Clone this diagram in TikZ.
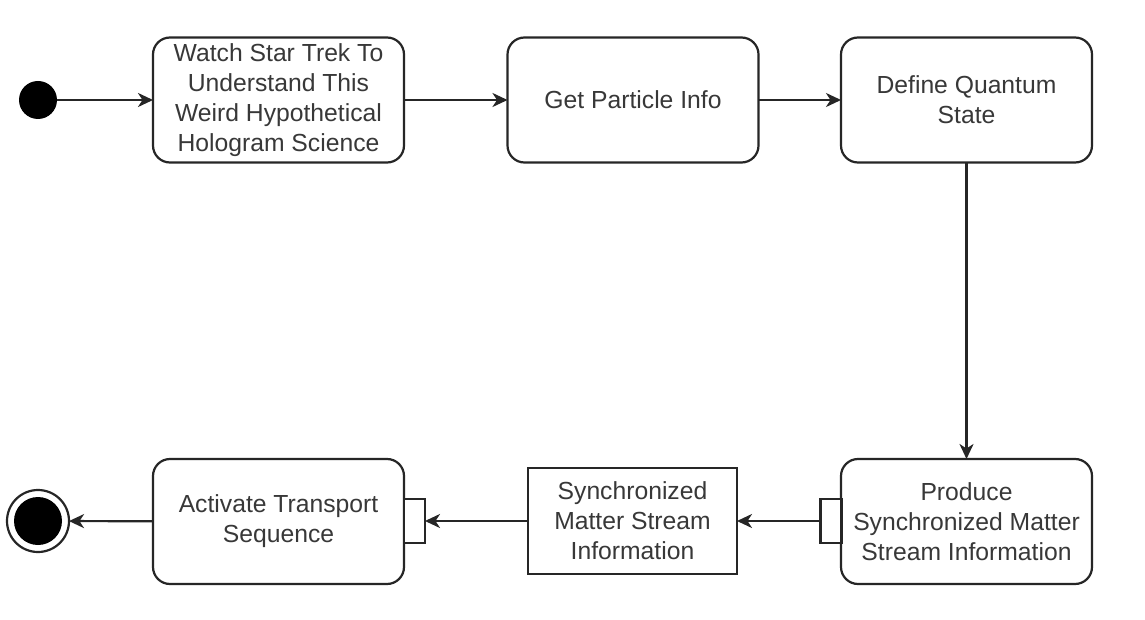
\documentclass[tikz,border=0pt]{standalone}
\usepackage{fontspec}
\setmainfont{Liberation Sans}
\usetikzlibrary{arrows.meta}
\definecolor{lineC}{HTML}{262626}
\definecolor{textC}{HTML}{383838}
\tikzset{
  x=1pt, y=-1pt,
  every node/.style={inner sep=0pt, outer sep=0pt},
  lbl/.style={text=textC, font=\fontsize{24.7}{30}\selectfont, align=center},
  action/.style={lbl, draw=lineC, line width=2.2pt, rounded corners=17pt, fill=white,
    minimum width=251pt, minimum height=125pt},
  objbox/.style={lbl, draw=lineC, line width=2.2pt, fill=white,
    minimum width=209pt, minimum height=106pt},
  pinbox/.style={draw=lineC, line width=2.2pt, fill=white,
    minimum width=21pt, minimum height=44pt},
  flow/.style={draw=lineC, line width=2.2pt,
    -{Stealth[length=15pt, width=14pt, inset=4.5pt]}},
}
\begin{document}
\begin{tikzpicture}
\useasboundingbox[fill=white] (0,0) rectangle (1145,620);

% initial node
\node[circle, fill=black, minimum size=38pt] (start) at (38,100) {};

% final node
\node[circle, draw=lineC, line width=2.2pt, fill=white, minimum size=62pt] (final) at (38,521) {};
\node[circle, fill=black, minimum size=48pt] (finalin) at (38,521) {};

% actions
\node[action] (watch) at (278.5,100) {Watch Star Trek To\\Understand This\\Weird Hypothetical\\Hologram Science};
\node[action] (get) at (633,100) {Get Particle Info};
\node[action] (define) at (966.5,100) {Define Quantum\\State};
\node[action] (produce) at (966.5,521.5) {Produce\\Synchronized Matter\\Stream Information};
\node[action] (activate) at (278.5,521.5) {Activate Transport\\Sequence};

% object
\node[objbox] (obj) at (632.5,521) {Synchronized\\Matter Stream\\Information};

% pins
\node[pinbox] (pinout) at (831,521) {};
\node[pinbox] (pinin) at (414.5,521) {};

% flows
\draw[flow] (start) -- (watch);
\draw[flow] (watch) -- (get);
\draw[flow] (get) -- (define);
\draw[flow] (define) -- (produce);
\draw[flow] (pinout) -- (obj);
\draw[flow] (obj) -- (pinin);
\draw[flow] (activate) -- (final);
\end{tikzpicture}
\end{document}
